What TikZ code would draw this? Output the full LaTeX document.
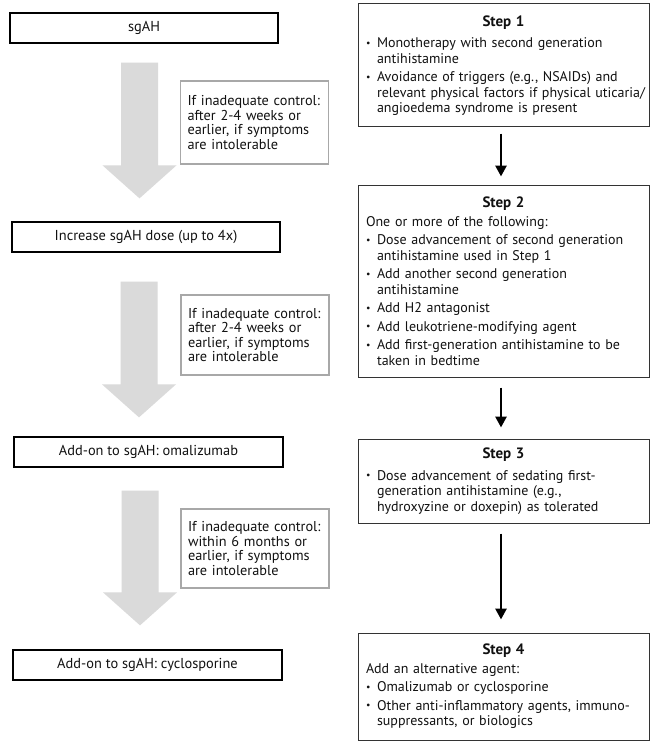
\documentclass[tikz,border=0pt]{standalone}
\usepackage{fontspec}
\setmainfont{PT Sans}
\usetikzlibrary{arrows.meta,calc}
\definecolor{arrowgray}{HTML}{DADADA}
\definecolor{boxgray}{HTML}{A8A8A8}
\definecolor{ink}{HTML}{111111}
\newcommand{\stitle}[1]{\makebox[\linewidth][c]{\fontsize{15}{15.5}\selectfont\bfseries #1}\par\vspace{3pt}}
\newcommand{\bitem}[1]{\par\vspace{3pt}\hangindent=11pt\hangafter=1\noindent\makebox[11pt][l]{\raisebox{0.2ex}{\scalebox{0.7}{\textbullet}}}#1\par}
\newcommand{\plain}[1]{\par\noindent\mbox{#1}\par}
\newcommand{\grayarrow}[2]{%
  \fill[arrowgray] let \p1=(#1), \p2=(#2) in
    (\x1-18.5pt,\y1) -- (\x1+18.5pt,\y1) -- (\x1+18.5pt,\y2+33pt) --
    (\x1+37pt,\y2+33pt) -- (\x1,\y2) -- (\x1-37pt,\y2+33pt) --
    (\x1-18.5pt,\y2+33pt) -- cycle;}
\begin{document}
\begin{tikzpicture}[x=1pt,y=-1pt,
  every node/.style={text=ink},
  lbox/.style={draw=black, line width=1.3pt, minimum height=30pt, inner sep=0pt,
    font=\fontsize{14.4}{16}\selectfont},
  gbox/.style={draw=boxgray, line width=1.4pt, fill=white, text width=134pt,
    inner xsep=7pt, inner ysep=0pt, align=left, font=\fontsize{14.3}{14.4}\selectfont},
  sbox/.style={draw=black!80, line width=1pt, minimum width=291pt, text width=275pt,
    inner xsep=8pt, inner ysep=0pt, font=\fontsize{14}{15.5}\selectfont},
  barrow/.style={line width=2.8pt, -{Triangle[length=11pt,width=11pt]}}]
\useasboundingbox (0,0) rectangle (658,749);
\fill[white] (0,0) rectangle (658,749);
% left column
\node[lbox, minimum width=268pt] (L1) at (144,28) {sgAH};
\node[lbox, minimum width=268pt] (L2) at (146,237) {Increase sgAH dose (up to 4x)};
\node[lbox, minimum width=269pt] (L3) at (148.5,452) {Add-on to sgAH: omalizumab};
\node[lbox, minimum width=269pt] (L4) at (147.5,665) {Add-on to sgAH: cyclosporine};
% gray arrows
\coordinate (a1s) at ($(L1.south)+(-4.5,19)$);
\coordinate (a1e) at ($(L2.north)+(-6.5,-23)$);
\coordinate (a2s) at ($(L2.south)+(-7,29)$);
\coordinate (a2e) at ($(L3.north)+(-9.5,-19)$);
\coordinate (a3s) at ($(L3.south)+(-8.5,23)$);
\coordinate (a3e) at ($(L4.north)+(-7.5,-24)$);
\grayarrow{a1s}{a1e}
\grayarrow{a2s}{a2e}
\grayarrow{a3s}{a3e}
% gray notes
\node[gbox, minimum height=83pt] (G1) at (254.5,122.5) {If inadequate control:\\after 2-4 weeks or\\earlier, if symptoms\\are intolerable};
\node[gbox, minimum height=80pt] (G2) at (255,335) {If inadequate control:\\after 2-4 weeks or\\earlier, if symptoms\\are intolerable};
\node[gbox, minimum height=79pt] (G3) at (255,548.5) {If inadequate control:\\within 6 months or\\earlier, if symptoms\\are intolerable};
% step boxes
\node[sbox, minimum height=123pt] (S1) at (503.5,65.5) {%
  \stitle{Step 1}%
  \bitem{\mbox{Monotherapy with second generation}\newline\mbox{antihistamine}}%
  \bitem{\mbox{Avoidance of triggers (e.g., NSAIDs) and}\newline\mbox{relevant physical factors if physical uticaria/}\newline\mbox{angioedema syndrome is present}}};
\node[sbox, minimum height=192pt] (S2) at (503.5,281) {%
  \stitle{Step 2}%
  \plain{One or more of the following:}%
  \bitem{\mbox{Dose advancement of second generation}\newline\mbox{antihistamine used in Step 1}}%
  \bitem{\mbox{Add another second generation}\newline\mbox{antihistamine}}%
  \bitem{\mbox{Add H2 antagonist}}%
  \bitem{\mbox{Add leukotriene-modifying agent}}%
  \bitem{\mbox{Add first-generation antihistamine to be}\newline\mbox{taken in bedtime}}};
\node[sbox, minimum height=84pt] (S3) at (503.5,481) {%
  \stitle{Step 3}%
  \bitem{\mbox{Dose advancement of sedating first-}\newline\mbox{generation antihistamine (e.g.,}\newline\mbox{hydroxyzine or doxepin) as tolerated}}};
\node[sbox, minimum height=107pt] (S4) at (503.5,686.5) {%
  \stitle{Step 4}%
  \plain{Add an alternative agent:}%
  \bitem{\mbox{Omalizumab or cyclosporine}}%
  \bitem{\mbox{Other anti-inflammatory agents, immuno-}\newline\mbox{suppressants, or biologics}}};
% black arrows
\draw[barrow] ($(S1.south)+(-2.5,6)$) -- ($(S2.north)+(-2.5,-8)$);
\draw[barrow] ($(S2.south)+(-2.5,10)$) -- ($(S3.north)+(-2.5,-11)$);
\draw[barrow] ($(S3.south)+(-2.5,10)$) -- ($(S4.north)+(-2.5,-13)$);
\end{tikzpicture}
\end{document}
